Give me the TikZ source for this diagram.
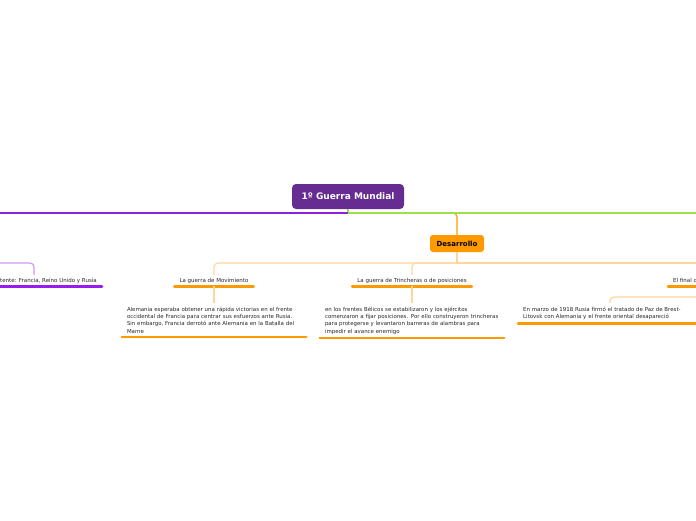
\documentclass[tikz,border=0pt]{standalone}
\usepackage{fontspec}
\setmainfont{DejaVu Sans}
\definecolor{rootpurple}{HTML}{662C91}
\definecolor{mainvio}{HTML}{8A20E0}
\definecolor{ulvio}{HTML}{9A1BEF}
\definecolor{lvio}{HTML}{CF9AF5}
\definecolor{lgreen}{HTML}{9EE04A}
\definecolor{orng}{HTML}{FF9900}
\definecolor{lorng}{HTML}{FFD699}
\begin{document}
\begin{tikzpicture}[x=1pt,y=-1pt,
  rootbox/.style={fill=rootpurple,rounded corners=4pt,minimum width=112pt,minimum height=25pt,inner sep=0pt,text=white,font=\bfseries\fontsize{9}{10}\selectfont},
  desbox/.style={fill=orng,rounded corners=3pt,minimum width=54pt,minimum height=17pt,inner sep=0pt,text=black,font=\bfseries\fontsize{7}{8}\selectfont},
  topic/.style={inner xsep=5pt,inner ysep=0pt,minimum height=11pt,font=\fontsize{5.5}{6.5}\selectfont,text=black!85},
  para/.style={inner xsep=3pt,inner ysep=3.5pt,align=left,font=\fontsize{5.45}{7.4}\selectfont,text=black!85},
  conn/.style={line width=1.2pt},
  lconn/.style={conn,draw=lorng,rounded corners=4pt},
  ul/.style={line width=2.6pt,line cap=round,draw=orng},
  ulv/.style={line width=2.6pt,line cap=round,draw=ulvio}
]
\useasboundingbox (0,0) rectangle (696,520);
\clip (0,0) rectangle (696,520);

% root and first level
\node[rootbox] (root) at (348,196.5) {1º Guerra Mundial};
\node[desbox] (des) at (457,243.5) {Desarrollo};
\coordinate (rj) at (348,213);
\coordinate (lend) at (0,213);
\coordinate (rend) at (696,213);
\draw[conn,draw=orng,rounded corners=4pt] (rj) -| (des.north);
\draw[conn,draw=lgreen] (root.south) -- (rj) -- (rend);
\draw[conn,draw=mainvio] (rj) -- (lend);

% left purple branch
\node[topic,anchor=west] (ent) at (-5,280.5) {tente: Francia, Reino Unido y Rusia};
\coordinate (pj) at (0,263);
\draw[conn,draw=lvio,rounded corners=4pt] (pj) -| ([xshift=39pt]ent.north west);
\draw[ulv] (ent.south west) -- (ent.south east);

% second level under Desarrollo
\node[topic] (mov) at (214,280.5) {La guerra de Movimiento};
\node[topic] (trin) at (412,280.5) {La guerra de Trincheras o de posiciones};
\node[topic,anchor=west] (fin) at (668,280.5) {El final d};
\coordinate (dj) at (457,263);
\coordinate (dr) at (696,263);
\draw[lconn] (des.south) -- (dj);
\draw[lconn] (dj) -| (mov.north);
\draw[lconn] (dj) -| (trin.north);
\draw[lconn] (dj) -- (dr);
\draw[ul] (mov.south west) -- (mov.south east);
\draw[ul] (trin.south west) -- (trin.south east);
\draw[ul] (fin.south west) -- ([xshift=40pt]fin.south east);

% paragraphs
\node[para,anchor=north,text width=178pt] (p1) at (214,303) {\hspace*{2pt}Alemania esperaba obtener una rápida victorias en el frente\\\hspace*{2pt}occidental de Francia para centrar sus esfuerzos ante Rusia.\\\hspace*{2pt}Sin embargo, Francia derrotó ante Alemania en la Batalla del\\\hspace*{2pt}Marne};
\node[para,anchor=north,text width=178pt] (p2) at (412,303) {\hspace*{2pt}en los frentes Bélicos se estabilizaron y los ejércitos\\\hspace*{2pt}comenzaron a fijar posiciones. Por ello construyeron trincheras\\\hspace*{2pt}para protegerse y levantaron barreras de alambras para\\\hspace*{2pt}impedir el avance enemigo};
\node[para,anchor=north west,text width=184pt] (p3) at (518,303) {\hspace*{2pt}En marzo de 1918 Rusia firmó el tratado de Paz de Brest-\\\hspace*{2pt}Litovsk con Alemania y el frente oriental desapareció};
\draw[lconn] (mov.south) -- (p1.north);
\draw[lconn] (trin.south) -- (p2.north);
\coordinate (fj) at (696,297);
\draw[lconn] (fj) -| ([xshift=92pt]p3.north west);
\draw[ul] (p1.south west) -- (p1.south east);
\draw[ul] (p2.south west) -- (p2.south east);
\draw[ul] (p3.south west) -- ([xshift=20pt]p3.south east);
\end{tikzpicture}
\end{document}
